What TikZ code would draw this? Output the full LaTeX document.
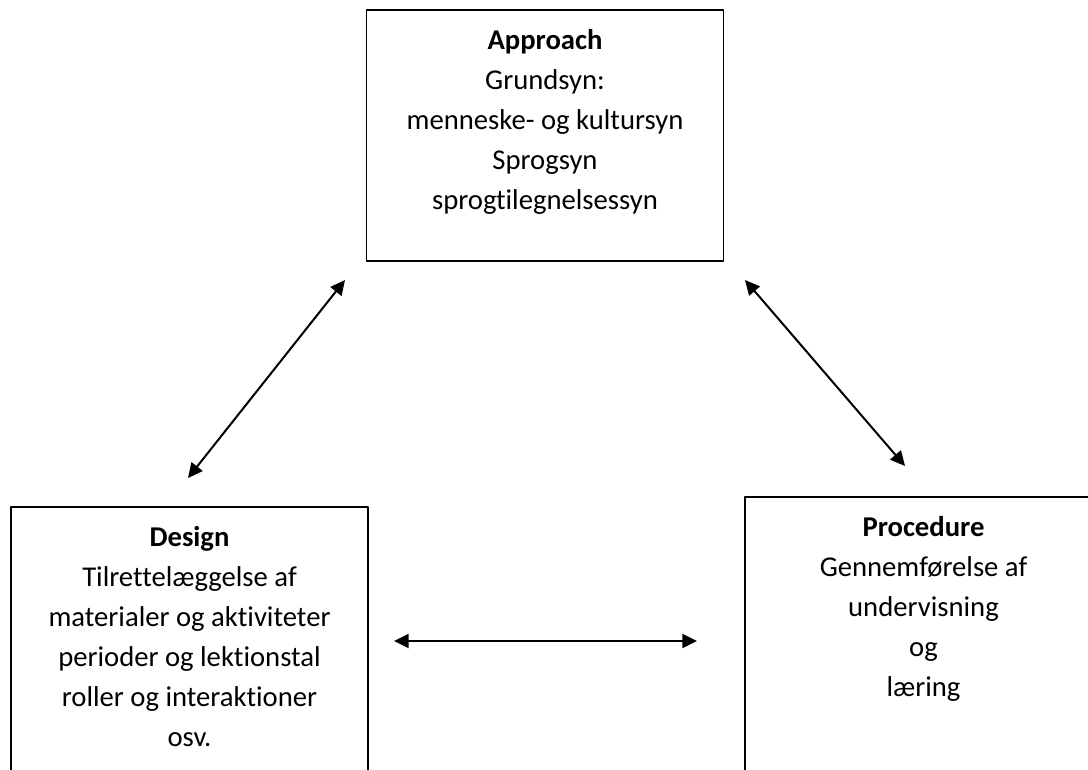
\documentclass[tikz,border=0pt]{standalone}
\usepackage{fontspec}
\setmainfont{Carlito}[Ligatures=CommonOff]
\usetikzlibrary{arrows.meta,positioning}

\tikzset{
  framebox/.style={draw, line width=1.4pt, minimum width=267.75pt, inner sep=0pt, anchor=north},
  boxtext/.style={align=center, inner sep=0pt, anchor=north, font=\fontsize{21.5}{30}\selectfont},
  link/.style={line width=1.5pt, {Triangle[length=11pt,width=10.5pt]}-{Triangle[length=11pt,width=10.5pt]}}
}

\begin{document}
\begin{tikzpicture}[line cap=round,line join=round,x=0.75pt,y=-0.75pt]
\useasboundingbox (0,0) rectangle (1088,769);
\clip (0,0) rectangle (1088,769);
% boxes
\node[framebox, minimum height=188.25pt] (approach) at (545,9) {};
\node[framebox, minimum height=225pt] (design) at (189.5,506) {};
\node[framebox, minimum height=225pt] (procedure) at (923.5,496) {};
% texts
\node[boxtext] (approachtxt) at (545,29) {\textbf{Approach}\\Grundsyn:\\menneske- og kultursyn\\Sprogsyn\\sprogtilegnelsessyn};
\node[boxtext] (designtxt) at (189.5,526) {\textbf{Design}\\Tilrettelæggelse af\\materialer og aktiviteter\\perioder og lektionstal\\roller og interaktioner\\osv.};
\node[boxtext] (proceduretxt) at (923.5,516) {\textbf{Procedure}\\Gennemførelse af\\undervisning\\og\\læring};
% arrow ends
\coordinate (ad) at (345,280);
\coordinate (da) at (188,478);
\coordinate (ap) at (745,280);
\coordinate (pa) at (905,466);
\coordinate (dp) at (394,641);
\coordinate (pd) at (697,641);
\draw[link] (ad) -- (da);
\draw[link] (ap) -- (pa);
\draw[link] (dp) -- (pd);
\end{tikzpicture}
\end{document}
